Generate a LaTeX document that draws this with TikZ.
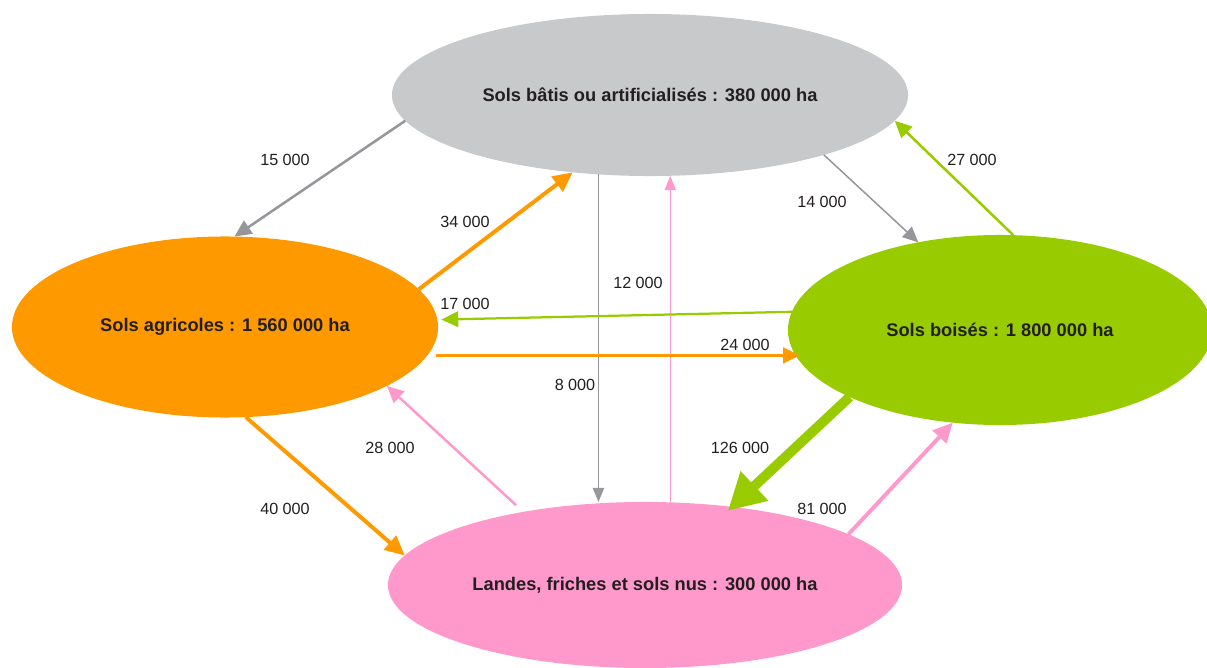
\documentclass[tikz,border=0pt]{standalone}
\usepackage{fontspec}
\setmainfont{Liberation Sans}
\usepackage{tikz}
\usetikzlibrary{arrows.meta,shapes.geometric,positioning}
\usepackage{xcolor}
\definecolor{solgray}{RGB}{200,201,203}
\definecolor{solorange}{RGB}{255,153,0}
\definecolor{solgreen}{RGB}{153,204,0}
\definecolor{solpink}{RGB}{255,153,204}
\definecolor{flowgray}{RGB}{150,150,155}
\definecolor{txtdark}{RGB}{35,31,32}
\tikzstyle{landbox} = [ellipse, draw=none, outer sep=0pt, inner sep=0pt, text=txtdark, font=\fontsize{13}{15}\selectfont\bfseries]
\tikzstyle{flowlabel} = [text=txtdark, font=\fontsize{11.5}{13}\selectfont, inner sep=0pt]
\tikzstyle{flow} = [-{Triangle[length=12pt,width=11pt]}]
\tikzstyle{thinflow} = [-{Triangle[length=10pt,width=8pt]}]
\tikzstyle{bigflow} = [-{Triangle[length=26pt,width=27pt]}]

\begin{document}
\begin{tikzpicture}[x=0.025cm, y=-0.025cm]
\useasboundingbox (0,0) rectangle (1207,668);

% land use ellipses
\node[landbox, fill=solgray, minimum width=12.9cm, minimum height=4.05cm] (batis) at (650,95) {Sols bâtis ou artificialisés : 380 000 ha};
\node[landbox, fill=solorange, minimum width=10.65cm, minimum height=4.525cm] (agri) at (225,327) {Sols agricoles : 1 560 000 ha};
\node[landbox, fill=solgreen, minimum width=10.6cm, minimum height=4.75cm] (bois) at (1000,330) {Sols boisés : 1 800 000 ha};
\node[landbox, fill=solpink, minimum width=12.85cm, minimum height=4.15cm] (landes) at (645,585) {Landes, friches et sols nus : 300 000 ha};

% flows
\draw[flow, flowgray, line width=1.8pt] (batis.186.2) -- (agri.84.9);
\draw[flow, solorange, line width=2.8pt, -{Triangle[length=14pt,width=13pt]}] (agri.11.3) -- (batis.225.4);
\draw[thinflow, flowgray, line width=1.07pt] (batis.237.8) -- (batis.237.8 |- landes.north);
\draw[thinflow, solpink, line width=0.7pt] (landes.73.8) -- (landes.73.8 |- batis.south);
\draw[thinflow, flowgray, line width=1.07pt, -{Triangle[length=11pt,width=10pt]}] (batis.341.6) -- (bois.133);
\draw[flow, solgreen, line width=1.8pt] (bois.82.2) -- (batis.354);
\draw[flow, solgreen, line width=1.6pt] (bois.175.4) -- ([xshift=0.1cm]agri.2.6);
\draw[flow, solorange, line width=2.1pt, shorten <=6pt] (agri.352.8) -- ([xshift=0.3cm]agri.352.8 -| bois.west);
\draw[flow, solpink, line width=1.8pt, shorten <=7pt] (landes.149.3) -- (agri.340.5);
\draw[flow, solorange, line width=2.8pt, -{Triangle[length=14pt,width=13pt]}] (agri.283.3) -- (landes.173);
\draw[bigflow, solgreen, line width=7pt] (bois.204.4) -- ([shift={(-4,4)}]landes.42.1);
\draw[flow, solpink, line width=2.8pt, -{Triangle[length=14pt,width=13pt]}] (landes.14) -- (bois.243.9);

% flow values
\node[flowlabel] (l15) at (285,160) {15 000};
\node[flowlabel] (l34) at (465,222) {34 000};
\node[flowlabel] (l12) at (638,283) {12 000};
\node[flowlabel] (l14) at (822,202) {14 000};
\node[flowlabel] (l27) at (972,160) {27 000};
\node[flowlabel] (l17) at (465,304) {17 000};
\node[flowlabel] (l24) at (745,345) {24 000};
\node[flowlabel] (l8) at (575,385) {8 000};
\node[flowlabel] (l28) at (390,448) {28 000};
\node[flowlabel] (l126) at (740,448) {126 000};
\node[flowlabel] (l40) at (285,509) {40 000};
\node[flowlabel] (l81) at (822,509) {81 000};
\end{tikzpicture}
\end{document}
